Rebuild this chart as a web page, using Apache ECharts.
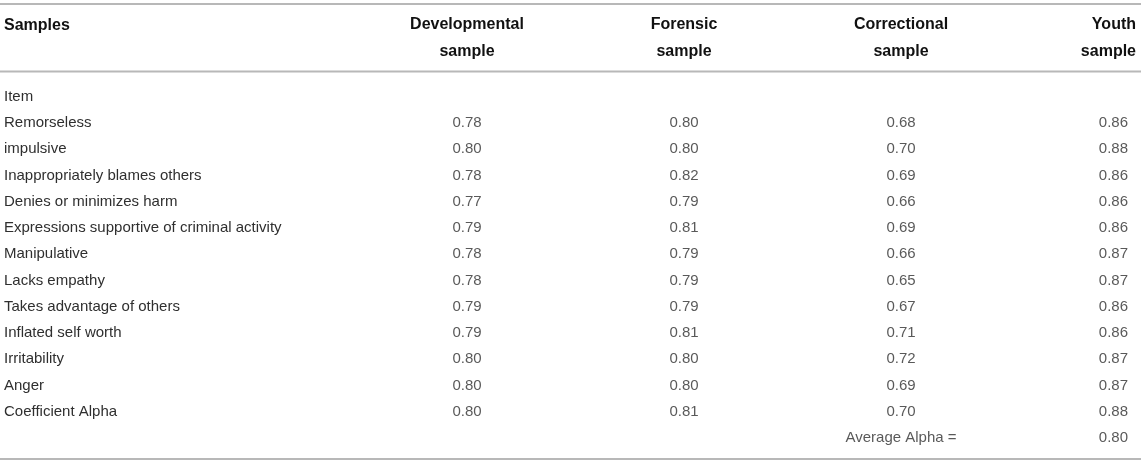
<!DOCTYPE html>
<html>
<head>
<meta charset="utf-8">
<script src="https://cdn.jsdelivr.net/npm/echarts@6/dist/echarts.min.js"></script>
<style>
  html, body { margin: 0; padding: 0; background: #fff; }
  #main { width: 1145px; height: 463px; }
</style>
</head>
<body>
<div id="main"></div>
<script>
// table rows (last row holds only the average)
const items = [
  "Item",
  "Remorseless",
  "impulsive",
  "Inappropriately blames others",
  "Denies or minimizes harm",
  "Expressions supportive of criminal activity",
  "Manipulative",
  "Lacks empathy",
  "Takes advantage of others",
  "Inflated self worth",
  "Irritability",
  "Anger",
  "Coefficient Alpha",
  "",
];
const columns = ["Developmental\nsample", "Forensic\nsample", "Correctional\nsample", "Youth\nsample"];

const developmental = [null, 0.78, 0.80, 0.78, 0.77, 0.79, 0.78, 0.78, 0.79, 0.79, 0.80, 0.80, 0.80];
const forensic = [null, 0.80, 0.80, 0.82, 0.79, 0.81, 0.79, 0.79, 0.79, 0.81, 0.80, 0.80, 0.81];
const correctional = [null, 0.68, 0.70, 0.69, 0.66, 0.69, 0.66, 0.65, 0.67, 0.71, 0.72, 0.69, 0.70];
const youth = [null, 0.86, 0.88, 0.86, 0.86, 0.86, 0.87, 0.87, 0.86, 0.86, 0.87, 0.87, 0.88];
const averageLabel = "Average Alpha =";
const averageAlpha = 0.80;

const FONT = "'Liberation Sans', Arial, Helvetica, sans-serif";
const TEXT = "#2f2f2f";
const RULE = "#b8b8b8";

function cells(values, col) {
  const out = [];
  values.forEach((v, i) => {
    if (v != null) out.push([col, i, v]);
  });
  return out;
}

const avgRow = items.length - 1;
const colData = [
  cells(developmental, 0),
  cells(forensic, 1),
  cells(correctional, 2).concat([[2, avgRow, averageLabel]]),
  cells(youth, 3).concat([[3, avgRow, averageAlpha]]),
];

// last header is right aligned like the source table
const headerData = columns.map((c, i) =>
  i === columns.length - 1
    ? { value: c, textStyle: { align: "right", padding: [0, -18, 0, 0] } }
    : c
);

var chartDom = document.getElementById("main");
var myChart = echarts.init(chartDom, null, { renderer: "canvas" });

var option = {
  animation: false,
  textStyle: { fontFamily: FONT },
  title: {
    text: "Samples",
    left: 4,
    top: 17.5,
    padding: 0,
    textStyle: { fontFamily: FONT, fontSize: 16, fontWeight: "bold", color: "#111" },
  },
  // column centres sit on the grid edges (boundaryGap false)
  grid: { left: 467, right: 27, top: 83.5, bottom: 12 },
  xAxis: {
    type: "category",
    position: "top",
    boundaryGap: false,
    data: headerData,
    axisLine: { show: false },
    axisTick: { show: false },
    splitLine: { show: false },
    axisLabel: {
      interval: 0,
      margin: 18,
      fontFamily: FONT,
      fontSize: 16,
      fontWeight: "bold",
      color: "#111",
      lineHeight: 27,
    },
  },
  yAxis: {
    type: "category",
    inverse: true,
    data: items,
    axisLine: { show: false },
    axisTick: { show: false },
    splitLine: { show: false },
    axisLabel: {
      interval: 0,
      align: "left",
      margin: 463,
      fontFamily: FONT,
      fontSize: 15,
      color: TEXT,
    },
  },
  graphic: [
    { type: "line", shape: { x1: 0, y1: 4, x2: 1141, y2: 4 }, style: { stroke: RULE, lineWidth: 2 } },
    { type: "line", shape: { x1: 0, y1: 71.5, x2: 1141, y2: 71.5 }, style: { stroke: RULE, lineWidth: 2 } },
    { type: "line", shape: { x1: 0, y1: 459, x2: 1141, y2: 459 }, style: { stroke: RULE, lineWidth: 2 } },
  ],
  series: colData.map((data, c) => ({
    type: "scatter",
    data: data,
    symbolSize: 1,
    silent: true,
    itemStyle: { color: "rgba(0,0,0,0)" },
    label: {
      show: true,
      position: "inside",
      fontFamily: FONT,
      fontSize: 15,
      color: TEXT,
      align: c === 3 ? "right" : "center",
      offset: c === 3 ? [10, 0] : [0, 0],
      formatter: (p) => (typeof p.value[2] === "number" ? p.value[2].toFixed(2) : p.value[2]),
    },
  })),
};

option && myChart.setOption(option);
</script>
</body>
</html>
